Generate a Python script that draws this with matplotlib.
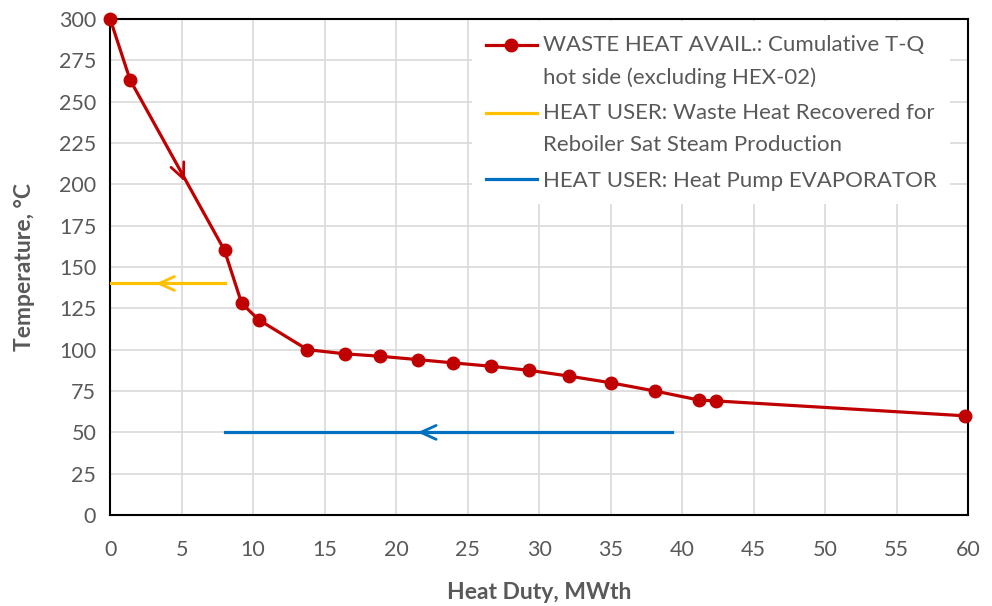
import matplotlib
matplotlib.use("Agg")
import matplotlib.pyplot as plt
from matplotlib.legend_handler import HandlerLine2D

# Cumulative T-Q hot side
duty = [0, 1.4, 8.0, 9.2, 10.4, 13.8, 16.4, 18.9, 21.5, 24.0, 26.6, 29.3,
        32.1, 35.0, 38.1, 41.2, 42.4, 59.8]
temp = [300, 263, 160, 128, 118, 100, 97.5, 96, 94, 92, 90, 87.5,
        84, 80, 75, 69.5, 69, 60]

# Heat users
reboiler_duty = [0, 8.0]
reboiler_temp = [140, 140]
evap_duty = [8.0, 39.3]
evap_temp = [50, 50]

labels = [
    "WASTE HEAT AVAIL.: Cumulative T-Q\nhot side (excluding HEX-02)",
    "HEAT USER: Waste Heat Recovered for\nReboiler Sat Steam Production",
    "HEAT USER: Heat Pump EVAPORATOR",
]

RED = "#C00000"
YELLOW = "#FFC000"
BLUE = "#0070C0"
GREY = "#595959"


class FirstLineHandler(HandlerLine2D):
    # put the legend line next to the first text line, like Excel does
    def create_artists(self, legend, orig_handle, xdescent, ydescent,
                       width, height, fontsize, trans):
        return super().create_artists(legend, orig_handle, xdescent,
                                      ydescent - 23, width, height, fontsize, trans)


plt.rcParams["font.family"] = ["Lato", "DejaVu Sans"]

fig = plt.figure(figsize=(9.92, 6.06), dpi=100)
ax = fig.add_axes([0.111, 0.150, 0.865, 0.819])

l1, = ax.plot(duty, temp, color=RED, lw=2.3, marker="o", ms=9, label=labels[0],
              zorder=4, clip_on=False)
l2, = ax.plot(reboiler_duty, reboiler_temp, color=YELLOW, lw=2.3, label=labels[1], zorder=3)
l3, = ax.plot(evap_duty, evap_temp, color=BLUE, lw=2.3, label=labels[2], zorder=3)

# direction arrows (open chevrons)
arrow_kw = dict(arrowstyle="->,head_length=1.1,head_width=0.5", lw=2.0)
ax.annotate("", xy=(5.3, 200), xytext=(4.9, 208),
            arrowprops=dict(color=RED, **arrow_kw), zorder=5)
ax.annotate("", xy=(3.0, 140), xytext=(4.0, 140),
            arrowprops=dict(color=YELLOW, **arrow_kw), zorder=5)
ax.annotate("", xy=(21.3, 50), xytext=(22.3, 50),
            arrowprops=dict(color=BLUE, **arrow_kw), zorder=5)

ax.set_xlim(0, 60)
ax.set_ylim(0, 300)
ax.set_xticks(range(0, 61, 5))
ax.set_yticks(range(0, 301, 25))
ax.grid(True, color="#d9d9d9", lw=1.2)
ax.set_axisbelow(True)
ax.tick_params(length=0, labelsize=15.5, labelcolor=GREY)
ax.tick_params(axis="x", pad=18)
ax.tick_params(axis="y", pad=10)
for sp in ax.spines.values():
    sp.set_color("black")
    sp.set_linewidth(1.5)

ax.set_xlabel("Heat Duty, MWth", fontsize=16.5, fontweight="bold", color=GREY, labelpad=16)
ax.set_ylabel("Temperature, °C", fontsize=16.5, fontweight="bold", color=GREY, labelpad=17)

leg = ax.legend(loc="upper left", bbox_to_anchor=(0.422, 0.995), fontsize=16,
                frameon=True, fancybox=False, borderaxespad=0, handlelength=2.3,
                handletextpad=0.3, labelspacing=0.7, borderpad=0.6,
                handler_map={l1: FirstLineHandler(), l2: FirstLineHandler()})
leg.get_frame().set_edgecolor("none")
leg.get_frame().set_facecolor("white")
leg.get_frame().set_alpha(1)
for t in leg.get_texts():
    t.set_color(GREY)
    t.set_linespacing(1.75)

fig.savefig("out.png", dpi=100)
